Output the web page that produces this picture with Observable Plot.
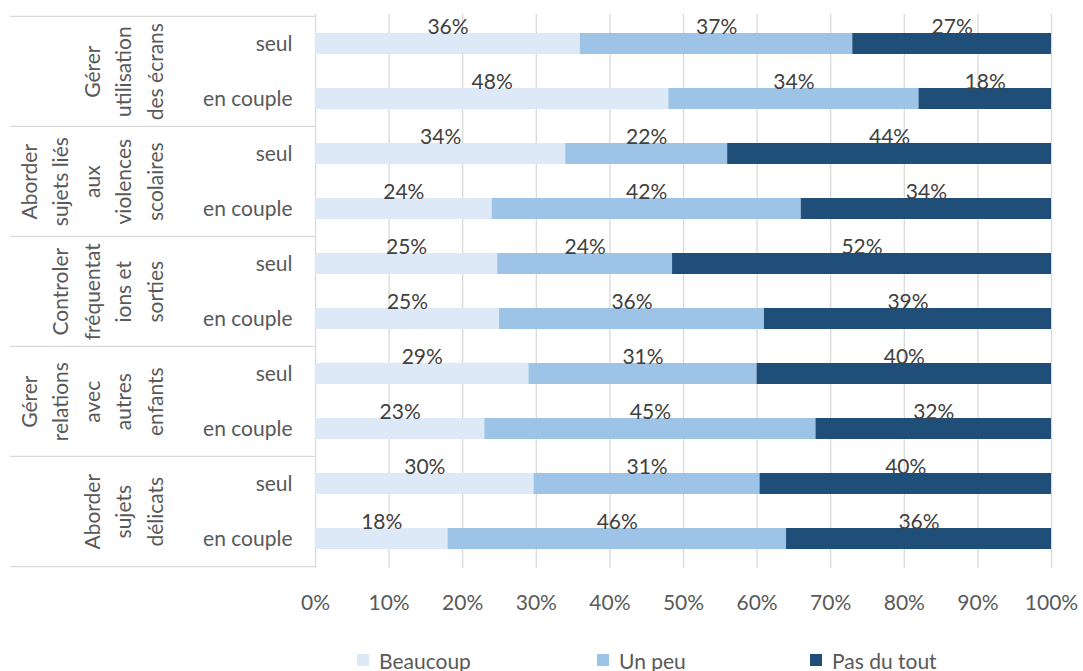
<!DOCTYPE html>
<html><head><meta charset="utf-8">
<script src="https://cdn.jsdelivr.net/npm/d3@7"></script>
<script src="https://cdn.jsdelivr.net/npm/@observablehq/plot@0.6"></script>
<style>
html,body{margin:0;padding:0;background:#fff;overflow:hidden}
body{font-family:Lato,"Open Sans",sans-serif}
#legend{position:relative;height:46px;width:1083px}
.item{position:absolute;top:22px;height:26px;display:flex;align-items:center;font-size:21px;color:#595959;white-space:nowrap}
.sw{width:12px;height:12px;margin-right:10px}
</style>
</head><body>
<div id="chart"></div>
<div id="legend"></div>
<script>
// ---- data ----
const groups = ["Gérer utilisation des écrans", "Aborder sujets liés aux violences scolaires", "Controler fréquentations et sorties", "Gérer relations avec autres enfants", "Aborder sujets délicats"];
const groupLabels = ["Gérer\nutilisation\ndes écrans", "Aborder\nsujets liés\naux\nviolences\nscolaires", "Controler\nfréquentat\nions et\nsorties", "Gérer\nrelations\navec\nautres\nenfants", "Aborder\nsujets\ndélicats"];
const situations = ["seul", "en couple"];
const responses = ["Beaucoup", "Un peu", "Pas du tout"];
const colors = ["#dde9f6", "#9dc3e6", "#1f4e79"];
// one value per row: group × situation, in order
const beaucoup  = [36, 48, 34, 24, 25, 25, 29, 23, 30, 18];
const unPeu     = [37, 34, 22, 42, 24, 36, 31, 45, 31, 46];
const pasDuTout = [27, 18, 44, 34, 52, 39, 40, 32, 40, 36];
const xTicks = [0, 0.1, 0.2, 0.3, 0.4, 0.5, 0.6, 0.7, 0.8, 0.9, 1];

// ---- build tables ----
const rows = [];
groups.forEach((g, gi) => situations.forEach((s, si) => rows.push({group: g, situation: s, key: g + "|" + s, idx: gi * 2 + si})));
const series = [beaucoup, unPeu, pasDuTout];
const data = [];
rows.forEach(r => responses.forEach((resp, k) => data.push({key: r.key, response: resp, value: series[k][r.idx]})));
const keys = rows.map(r => r.key);
const groupData = groups.map((g, i) => ({key: g + "|seul", label: groupLabels[i]}));
const lastKey = keys[keys.length - 1];

const W = 1083, H = 625;
const mL = 315, mR = 32, mT = 14, mB = 57;
const half = (H - mT - mB) / keys.length / 2;

const chart = Plot.plot({
  width: W, height: H,
  marginLeft: mL, marginRight: mR, marginTop: mT, marginBottom: mB,
  style: {fontFamily: "Lato, 'Open Sans', sans-serif", fontSize: "21px", color: "#595959", background: "#fff"},
  x: {domain: [0, 1], axis: null, label: null},
  y: {domain: keys, axis: null, label: null, paddingInner: 0.62, paddingOuter: 0.31},
  color: {domain: responses, range: colors},
  marks: [
    Plot.ruleX(xTicks, {x: d => d, stroke: "#d9d9d9", strokeWidth: 1.3}),
    // category frame lines
    Plot.ruleY(groupData, {y: "key", dy: -half, stroke: "#d9d9d9", strokeWidth: 1.3, insetLeft: -(mL - 10), insetRight: W - mR - mL}),
    Plot.ruleY([lastKey], {y: d => d, dy: half, stroke: "#d9d9d9", strokeWidth: 1.3, insetLeft: -(mL - 10), insetRight: W - mR - mL}),
    Plot.barX(data, Plot.stackX({x: "value", y: "key", fill: "response", offset: "normalize"})),
    Plot.text(data, Plot.stackX({x: "value", y: "key", z: "response", offset: "normalize", text: d => d.value + "%", dy: -17, fill: "#404040", fontSize: 21})),
    Plot.text(rows, {x: d => 0, y: "key", text: "situation", textAnchor: "end", dx: -23, fill: "#595959", fontSize: 21}),
    Plot.text(groupData, {x: d => 0, y: "key", text: "label", dy: half, dx: -153, rotate: -90, textAnchor: "middle", lineAnchor: "bottom", lineHeight: 1.5, fill: "#595959", fontSize: 21}),
    Plot.axisX({ticks: xTicks, tickFormat: d3.format(".0%"), tickSize: 0, tickPadding: 27, fontSize: 21, fill: "#595959", color: "#595959", label: null})
  ]
});
document.getElementById("chart").appendChild(chart);

// legend
const legend = document.getElementById("legend");
const legendLeft = [357, 597, 810];
responses.forEach((r, i) => {
  const it = document.createElement("div");
  it.className = "item";
  it.style.left = legendLeft[i] + "px";
  const sw = document.createElement("span");
  sw.className = "sw";
  sw.style.background = colors[i];
  it.appendChild(sw);
  it.appendChild(document.createTextNode(r));
  legend.appendChild(it);
});
</script>
</body></html>
